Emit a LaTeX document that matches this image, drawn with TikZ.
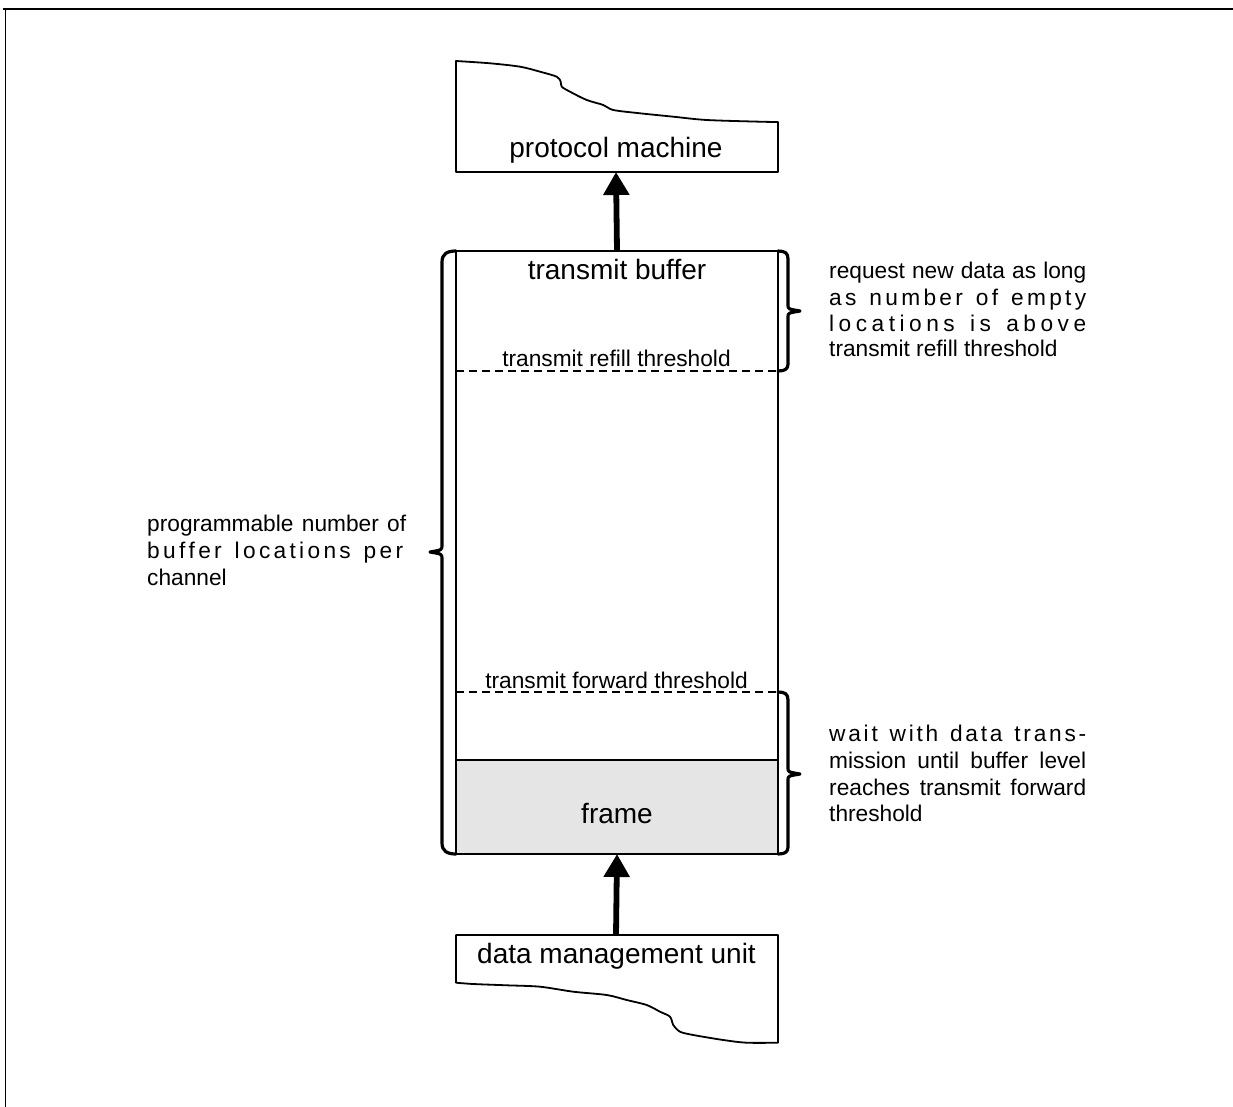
\documentclass[tikz,border=0pt]{standalone}
\usepackage{fontspec}
\setmainfont{Liberation Sans}
\usetikzlibrary{arrows.meta}

\definecolor{framegray}{gray}{0.9}
\newcommand\labelbig{\fontsize{28}{33}\selectfont}
\newcommand\labelsmall{\fontsize{22.7}{26.6}\selectfont}

% spread the letters of a line over a given width (write spaces as ~)
\def\spreadend{\spreadend}
\def\spreadline#1#2{\hbox to #1{\spreadloop#2\spreadend}}
\def\spreadloop#1#2{#1\ifx#2\spreadend\else\hfil\expandafter\spreadloop\expandafter#2\fi}

\begin{document}
\begin{tikzpicture}[x=1pt, y=-1pt, line join=round,
    thin line/.style={line width=1.8pt},
    threshold line/.style={line width=1.6pt, dash pattern=on 8pt off 5pt},
    bracket/.style={line width=3.2pt, line cap=round},
    feed/.style={line width=5.8pt, -{Triangle[width=25pt,length=23pt]}},
    big label/.style={font=\labelbig, inner sep=0pt, anchor=base},
    small label/.style={font=\labelsmall, inner sep=0pt, anchor=base},
    note line/.style={font=\labelsmall, inner sep=0pt, anchor=base west}]

    \useasboundingbox (0,0) rectangle (1233,1107);

    % page frame
    \draw[line width=2pt] (3,9.5) -- (1233,9.5);
    \draw[line width=1.3pt] (5.5,9.5) -- (5.5,1107);

    % protocol machine, torn at the top
    \draw[thin line] (456,172) -- plot[smooth, tension=0.5] coordinates {
        (456,61) (490,63.3) (520,66.7) (540,71.7) (556.7,76.7) (560.7,81.7)
        (561.7,86.7) (570,91.7) (586.7,100) (603.3,105) (613.3,110) (640,113.3)
        (673.3,116.7) (706.7,120) (760,121.7) (778,122)} -- (778,172) -- cycle;
    \node[big label] (proto) at (616,158) {protocol machine};
    \coordinate (proto-s) at (616,172);

    % data management unit, torn at the bottom
    \draw[thin line] (456,935) -- (456,982.7) -- plot[smooth, tension=0.5] coordinates {
        (456,982.7) (473.3,984) (506.7,985.3) (540,986.7) (573.3,991.7) (606.7,995)
        (626.7,1000) (646.7,1005) (660,1011.7) (670,1016.7) (673.3,1025) (680,1031.7)
        (693.3,1035) (723.3,1040) (746.7,1042.7) (778,1042.7)} -- (778,935) -- cycle;
    \node[big label] (dmu) at (616.5,963) {data management unit};
    \coordinate (dmu-n) at (616,935);

    % transmit buffer
    \fill[framegray] (456,760) rectangle (778,854);
    \draw[thin line] (456,760) -- (778,760);
    \node[draw, thin line, minimum width=322pt, minimum height=603pt,
        inner sep=0pt, outer sep=0pt] (buffer) at (617,552.5) {};
    \node[big label] (title) at (617,279) {transmit buffer};
    \node[big label] (frame) at (617,823) {frame};

    % thresholds
    \draw[threshold line] (456,371) -- (778,371);
    \draw[threshold line] (456,692) -- (778,692);
    \node[small label] (refill) at (616.5,366) {transmit refill threshold};
    \node[small label] (forward) at (616.5,688) {transmit forward threshold};

    % data flow
    \draw[feed] (dmu-n) -- (buffer.south);
    \draw[feed] (buffer.north) -- (proto-s);

    % brackets
    \draw[bracket] (456,251) .. controls (447,251) and (442,254) .. (442,262)
        -- (442,545) .. controls (442,550) .. (430,552)
        .. controls (442,554) .. (442,559)
        -- (442,843) .. controls (442,851) and (447,854) .. (456,854);
    \draw[bracket] (778,251) .. controls (785,251) and (788,253) .. (788,259)
        -- (788,305) .. controls (788,309) .. (800,311)
        .. controls (788,313) .. (788,317)
        -- (788,364) .. controls (788,369) and (785,371) .. (778,371);
    \draw[bracket] (778,692) .. controls (785,692) and (788,694) .. (788,700)
        -- (788,768) .. controls (788,772) .. (800,774)
        .. controls (788,776) .. (788,780)
        -- (788,847) .. controls (788,852) and (785,854) .. (778,854);

    % notes
    \node[note line] (size-1) at (147,531.7) {\makebox[259pt][s]{programmable number of}};
    \node[note line] (size-2) at (147,558) {\spreadline{256pt}{buffer~locations~per}};
    \node[note line] (size-3) at (147,585) {channel};

    \node[note line] (ask-1) at (829,278) {\makebox[257pt][s]{request new data as long}};
    \node[note line] (ask-2) at (829,305) {\spreadline{257pt}{as~number~of~empty}};
    \node[note line] (ask-3) at (829,331.7) {\spreadline{257pt}{locations~is~above}};
    \node[note line] (ask-4) at (829,356.7) {transmit refill threshold};

    \node[note line] (wait-1) at (829,741.7) {\spreadline{257pt}{wait~with~data~trans-}};
    \node[note line] (wait-2) at (829,768) {\makebox[257pt][s]{mission until buffer level}};
    \node[note line] (wait-3) at (829,795) {\makebox[257pt][s]{reaches transmit forward}};
    \node[note line] (wait-4) at (829,821.7) {threshold};
\end{tikzpicture}
\end{document}
